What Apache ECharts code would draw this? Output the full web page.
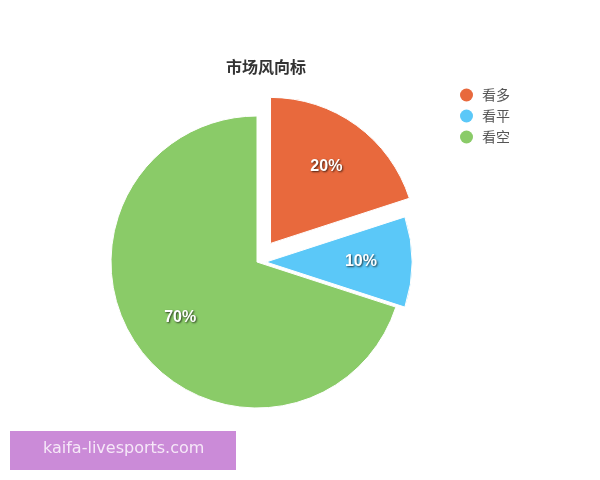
<!DOCTYPE html>
<html>
<head>
<meta charset="utf-8">
<script src="https://cdn.jsdelivr.net/npm/echarts@6/dist/echarts.min.js"></script>
<style>
  html, body { margin: 0; padding: 0; background: #fff; }
  #main { width: 600px; height: 480px; }
</style>
</head>
<body>
<div id="main"></div>
<script>
var names = ['看多', '看平', '看空'];
var values = [20, 10, 70];
var colors = ['#E8693D', '#5BC8F8', '#8ACB68'];
// how far each slice is pulled out of the pie (px)
var offsets = [23, 9, 0];

var pieCenter = [257, 262];
var pieRadius = 146;

// one layer per slice, so each slice can have its own pull-out distance
function makeLayer(k) {
    var data = names.map(function (n, i) {
        var mine = (i == k);
        return {
            name: n,
            value: values[i],
            selected: mine && offsets[k] > 0,
            itemStyle: mine ? { color: colors[i], borderColor: '#fff', borderWidth: 1 }
                            : { color: 'rgba(0,0,0,0)', borderWidth: 0 },
            label: { show: mine }
        };
    });
    return {
        name: names[k],
        type: 'pie',
        radius : pieRadius,
        center: pieCenter,
        startAngle: 90,
        selectedMode: 'multiple',
        selectedOffset: offsets[k],
        avoidLabelOverlap: false,
        silent: true,
        label: {
            position: 'inside',
            formatter: '{d}%',
            color: '#fff',
            fontSize: 16,
            fontWeight: 'bold',
            fontFamily: 'Arial, "Liberation Sans", sans-serif',
            textShadowColor: 'rgba(0,0,0,0.7)',
            textShadowBlur: 2,
            textShadowOffsetX: 1,
            textShadowOffsetY: 1
        },
        // push the inside labels further out, along the slice's middle
        labelLayout: function (params) {
            var r = params.labelRect;
            var vx = r.x + r.width / 2 - pieCenter[0];
            var vy = r.y + r.height / 2 - pieCenter[1];
            var len = Math.sqrt(vx * vx + vy * vy) || 1;
            var push = pieRadius * 0.13;
            return { dx: vx / len * push, dy: vy / len * push };
        },
        labelLine: { show: false },
        emphasis: { disabled: true },
        data: data
    };
}

var layers = [2, 1, 0].map(makeLayer);

var myChart = echarts.init(document.getElementById('main'));
var option = {
    backgroundColor: '#fff',
    textStyle: { fontFamily: '"Noto Sans CJK SC", sans-serif' },
    title : {
        text: '市场风向标',
        left: 261,
        textAlign: 'center',
        top: 54,
        textStyle: { fontSize: 16, fontWeight: 'bold', color: '#333', fontFamily: '"Noto Sans CJK SC", sans-serif' }
    },
    legend: {
        orient : 'vertical',
        left: 455,
        top: 83,
        icon: 'circle',
        itemWidth: 13,
        itemHeight: 13,
        itemGap: 7,
        textStyle: { fontSize: 14, color: '#555', padding: [0, 0, 0, 4] },
        data: names.map(function (n, i) {
            return { name: n, itemStyle: { color: colors[i] } };
        })
    },
    series : layers,
    graphic: [
        {
            type: 'rect',
            left: 10,
            top: 431,
            shape: { width: 226, height: 39 },
            style: { fill: '#CB8BD8' }
        },
        {
            type: 'text',
            left: 43,
            top: 441,
            style: { text: 'kaifa-livesports.com', fill: '#F6E8F8', fontSize: 16, fontFamily: '"DejaVu Sans", sans-serif' }
        }
    ]
};
myChart.setOption(option);
</script>
</body>
</html>
